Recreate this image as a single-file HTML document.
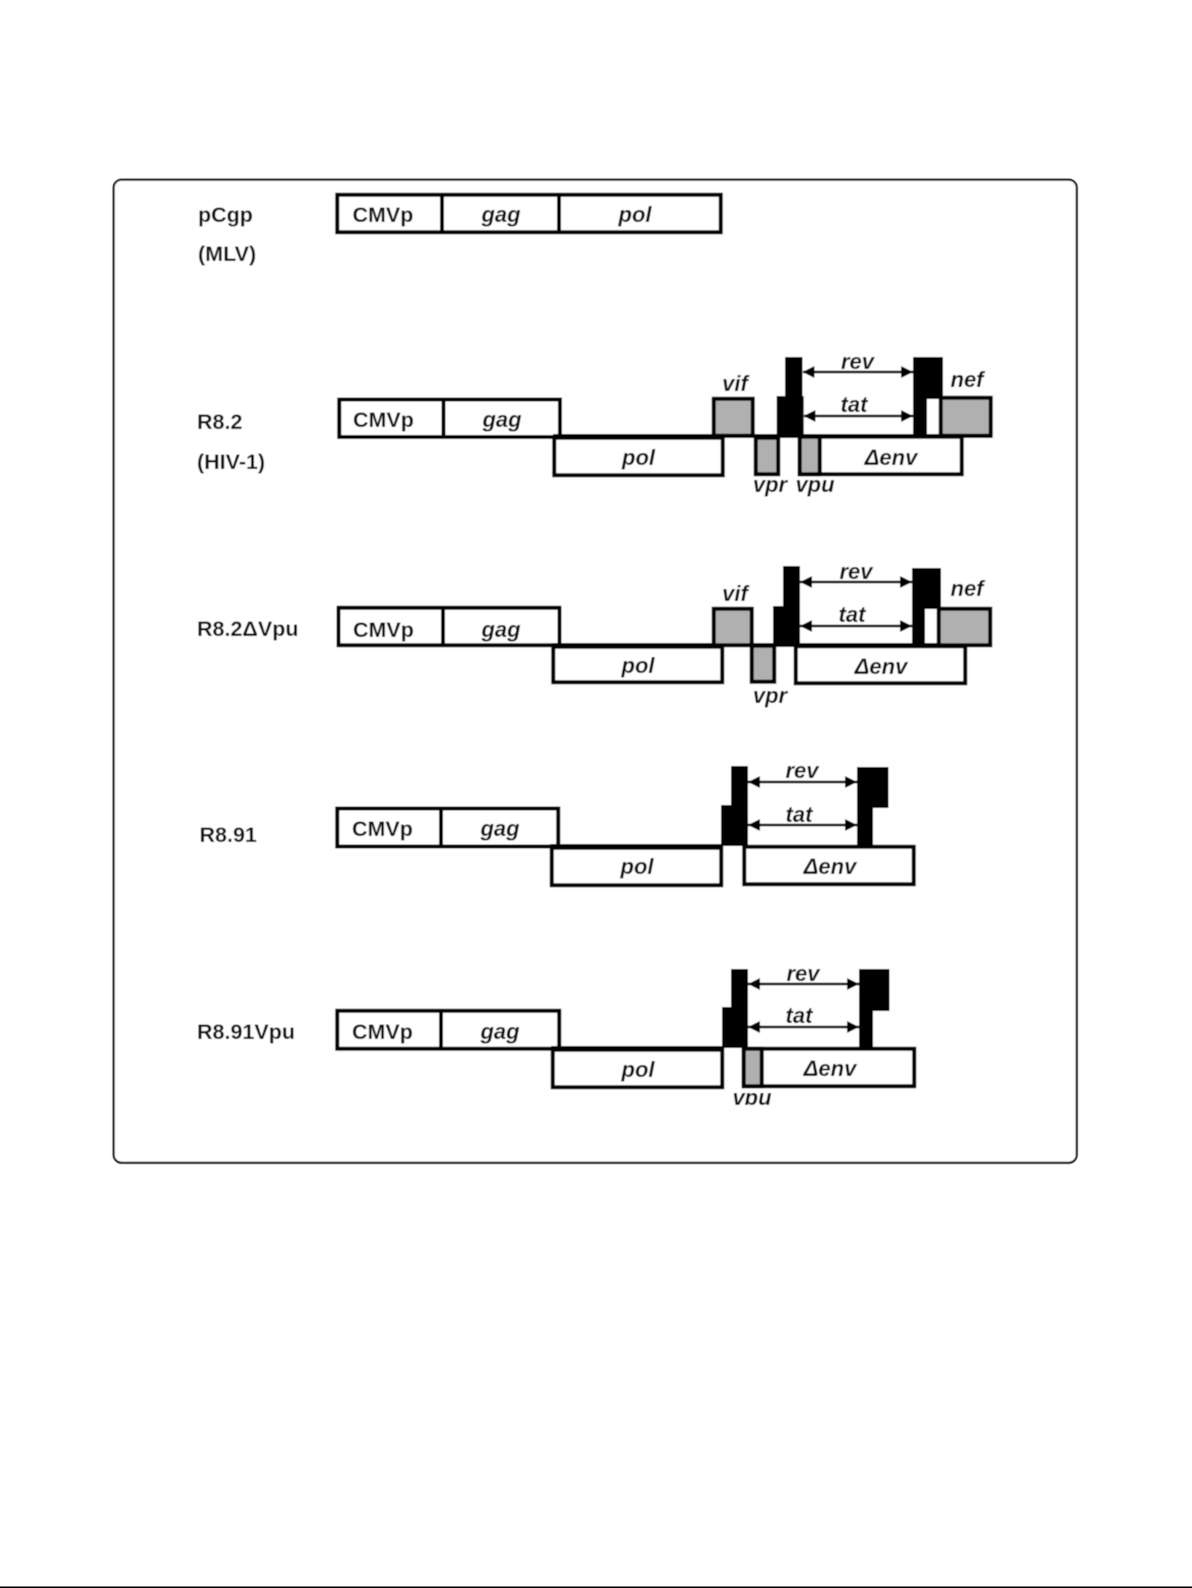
<!DOCTYPE html>
<html><head><meta charset="utf-8"><style>
html,body{margin:0;padding:0;background:#fff}
svg{display:block}
.b{fill:none;stroke:#000;stroke-width:4}
.w{fill:#fff;stroke:#000;stroke-width:4}
.g{fill:#b0b0b0;stroke:#000;stroke-width:4}
text{font-family:"Liberation Sans",sans-serif;font-size:21.5px;font-weight:bold;fill:#111}
.i{font-style:italic;text-anchor:middle;font-size:22px}
</style></head><body>
<svg xmlns="http://www.w3.org/2000/svg" width="1192" height="1588" viewBox="0 0 1192 1588">
<defs><filter id="f" x="-2%" y="-2%" width="104%" height="104%"><feGaussianBlur stdDeviation="0.5"/></filter>
<clipPath id="c"><rect x="0" y="0" width="1192" height="1105"/></clipPath></defs>
<rect x="0" y="0" width="1192" height="1588" fill="#fff"/>
<g filter="url(#f)">
<rect x="113.7" y="179.7" width="963" height="983" rx="8" fill="#fff" stroke="#000" stroke-width="2"/>

<!-- pCgp -->
<text x="198" y="222">pCgp</text>
<text x="198" y="261">(MLV)</text>
<rect class="b" x="337.25" y="194.75" width="383.5" height="37.5"/>
<path class="b" d="M442 193V233M559 193V233"/>
<text x="352.5" y="222">CMVp</text>
<text class="i" x="501" y="222">gag</text>
<text class="i" x="635" y="222">pol</text>

<!-- R8.2 -->
<text x="197" y="429">R8.2</text>
<text x="197" y="469">(HIV-1)</text>
<rect class="w" x="554.25" y="437.75" width="168.5" height="37.5"/>
<rect class="b" x="339.25" y="399.5" width="220.7" height="37.5"/>
<path class="b" d="M443.5 398V438"/>
<text x="353" y="427">CMVp</text>
<text class="i" x="502" y="427">gag</text>
<text class="i" x="638.5" y="465">pol</text>
<path class="b" d="M553 436H992"/>
<rect class="w" x="799.75" y="436.75" width="162" height="37.5"/>
<rect class="g" x="799.75" y="436.75" width="20" height="37.5"/>
<rect class="g" x="755.75" y="437.75" width="22.5" height="36.5"/>
<rect class="g" x="713.75" y="398.75" width="39" height="37"/>
<rect class="g" x="940.75" y="397.75" width="50" height="38"/>
<rect x="785" y="357" width="17.5" height="80"/><rect x="776.7" y="396" width="27" height="41"/>
<rect x="913" y="357" width="30" height="42"/><rect x="913" y="357" width="14" height="80"/>
<path stroke="#000" stroke-width="2.4" d="M803 372H913M804 416H913"/>
<path d="M802.5 372l12-6v12zM913 372l-12-6v12zM803.5 416l12-6v12zM913 416l-12-6v12z"/>
<text class="i" x="857.5" y="369">rev</text>
<text class="i" x="854" y="412">tat</text>
<text class="i" x="735" y="391">vif</text>
<text class="i" x="967" y="387">nef</text>
<text class="i" x="770" y="492">vpr</text>
<text class="i" x="815" y="492">vpu</text>
<text class="i" x="891" y="465">Δenv</text>

<!-- R8.2 dVpu -->
<text x="197" y="636">R8.2ΔVpu</text>
<rect class="w" x="553.25" y="646.75" width="169" height="35.5"/>
<rect class="b" x="338.5" y="607.75" width="221" height="37.5"/>
<path class="b" d="M443 606V647"/>
<text x="353" y="637">CMVp</text>
<text class="i" x="501" y="637">gag</text>
<text class="i" x="638" y="673">pol</text>
<path class="b" d="M552 645H992"/>
<rect class="w" x="795.75" y="646.25" width="169.5" height="37"/>
<rect class="g" x="751.75" y="645.75" width="22.5" height="36"/>
<rect class="g" x="713.75" y="608.75" width="38" height="36.5"/>
<rect class="g" x="938.75" y="608.75" width="51.5" height="36.5"/>
<rect x="783" y="566" width="17" height="81"/><rect x="773" y="606" width="27" height="41"/>
<rect x="912" y="568" width="29" height="41"/><rect x="912" y="568" width="13" height="79"/>
<path stroke="#000" stroke-width="2.4" d="M800 582H912M800 626H912"/>
<path d="M800 582l12-6v12zM912 582l-12-6v12zM800 626l12-6v12zM912 626l-12-6v12z"/>
<text class="i" x="856" y="579">rev</text>
<text class="i" x="852" y="622">tat</text>
<text class="i" x="735" y="601">vif</text>
<text class="i" x="967" y="596">nef</text>
<text class="i" x="770" y="703">vpr</text>
<text class="i" x="881" y="674">Δenv</text>

<!-- R8.91 -->
<text x="199.5" y="842">R8.91</text>
<rect class="w" x="551.75" y="847.75" width="169.5" height="37.5"/>
<rect class="b" x="337.25" y="808.5" width="221" height="38"/>
<path class="b" d="M441 807V848"/>
<text x="352" y="836">CMVp</text>
<text class="i" x="500" y="836">gag</text>
<text class="i" x="637" y="874">pol</text>
<path class="b" d="M550 846H722"/>
<rect class="w" x="744.25" y="846.75" width="169.5" height="37.5"/>
<rect x="731" y="766" width="17" height="80"/><rect x="721" y="805" width="27" height="41"/>
<rect x="857" y="767" width="31.5" height="41"/><rect x="857" y="767" width="16" height="79"/>
<path stroke="#000" stroke-width="2.4" d="M748 782H857M748 825H857"/>
<path d="M748 782l12-6v12zM857 782l-12-6v12zM748 825l12-6v12zM857 825l-12-6v12z"/>
<text class="i" x="802" y="778">rev</text>
<text class="i" x="799" y="822">tat</text>
<text class="i" x="830" y="874">Δenv</text>

<!-- R8.91Vpu -->
<text x="197" y="1039">R8.91Vpu</text>
<rect class="w" x="552.75" y="1049.75" width="169.5" height="37.5"/>
<rect class="b" x="337.25" y="1010.75" width="222" height="38"/>
<path class="b" d="M441 1009V1050"/>
<text x="352" y="1039">CMVp</text>
<text class="i" x="500" y="1039">gag</text>
<text class="i" x="638" y="1077">pol</text>
<path class="b" d="M551 1048H722"/>
<rect class="w" x="743.75" y="1048.75" width="170.5" height="37.5"/>
<rect class="g" x="743.75" y="1048.75" width="18" height="37.5"/>
<rect x="731" y="969" width="17" height="79"/><rect x="722" y="1007" width="26" height="41"/>
<rect x="859" y="969" width="30.5" height="42"/><rect x="859" y="969" width="14" height="79"/>
<path stroke="#000" stroke-width="2.4" d="M748 984H859M748 1027H859"/>
<path d="M748 984l12-6v12zM859 984l-12-6v12zM748 1027l12-6v12zM859 1027l-12-6v12z"/>
<text class="i" x="803" y="981">rev</text>
<text class="i" x="799" y="1023">tat</text>
<text class="i" x="830" y="1076">Δenv</text>
<g clip-path="url(#c)"><text class="i" x="752" y="1105">vpu</text></g>
</g>
<rect x="0" y="1586.5" width="1192" height="1.5" fill="#000"/>
</svg>
</body></html>
